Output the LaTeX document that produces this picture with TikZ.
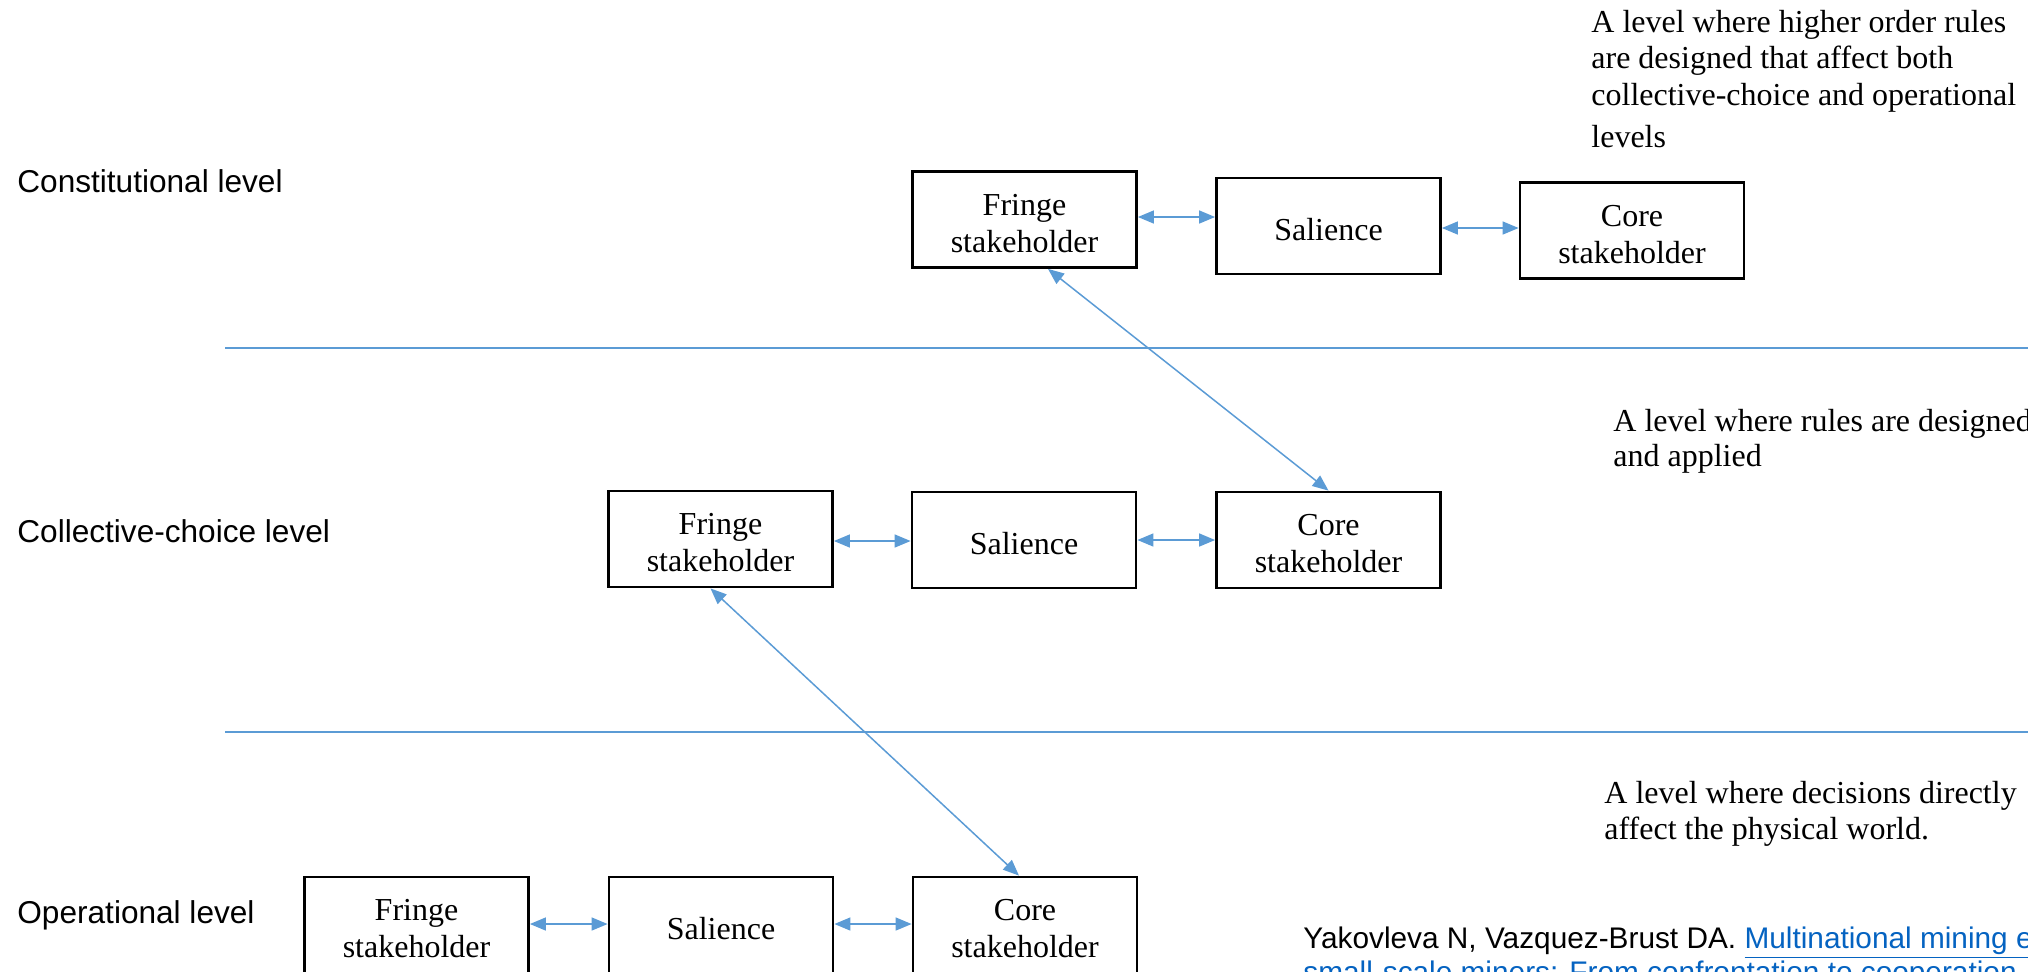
\documentclass[tikz,border=0pt]{standalone}
\usepackage{fontspec}
\setmainfont{Liberation Serif}
\newfontfamily\labelfont{Liberation Sans}
\usetikzlibrary{arrows.meta}
\definecolor{lineblue}{HTML}{5B9BD5}
\definecolor{linkblue}{HTML}{0563C1}
\newcommand{\boxlines}[1]{\begin{tabular}{@{}c@{}}\noalign{\vskip7pt}#1\end{tabular}}
\begin{document}
\begin{tikzpicture}[x=0.5pt,y=-0.5pt,
  box/.style={draw=black,line width=1.4pt,minimum width=112pt,minimum height=48pt,inner sep=0pt,font=\fontsize{16pt}{18.5pt}\selectfont},
  biarrow/.style={draw=lineblue,line width=0.75pt,{Triangle[length=8pt,width=6.5pt]}-{Triangle[length=8pt,width=6.5pt]}},
  sepline/.style={draw=lineblue,line width=0.8pt},
  lvl/.style={anchor=base west,inner sep=0pt,font=\labelfont\fontsize{15.8pt}{19pt}\selectfont},
  desc/.style={anchor=base west,inner sep=0pt,font=\fontsize{16pt}{18.5pt}\selectfont},
  citestyle/.style={anchor=base west,inner sep=0pt,font=\labelfont\fontsize{14.9pt}{17pt}\selectfont}]
\useasboundingbox (0,0) rectangle (2028,971);
\clip (0,0) rectangle (2028,971);

% level labels
\node[lvl] (lc) at (17,192) {Constitutional level};
\node[lvl] (lk) at (17,542) {Collective-choice level};
\node[lvl] (lo) at (17,923) {Operational level};

% separators
\coordinate (s1a) at (225,348); \coordinate (s1b) at (2028,348);
\coordinate (s2a) at (225,732); \coordinate (s2b) at (2028,732);
\draw[sepline] (s1a) -- (s1b);
\draw[sepline] (s2a) -- (s2b);

% descriptions
\node[desc] (d1a) at (1591,32) {A level where higher order rules};
\node[desc] (d1b) at (1591,68) {are designed that affect both};
\node[desc] (d1c) at (1591,105) {collective-choice and operational};
\node[desc] (d1d) at (1591,147) {levels};
\node[desc] (d2a) at (1613,431) {A level where rules are designed};
\node[desc] (d2b) at (1613,466) {and applied};
\node[desc] (d3a) at (1604,803) {A level where decisions directly};
\node[desc] (d3b) at (1604,839) {affect the physical world.};

% boxes
\node[box] (cF) at (1024.5,219.5) {\boxlines{Fringe\\stakeholder}};
\node[box] (cS) at (1328.5,226) {\boxlines{Salience}};
\node[box] (cC) at (1632,230.5) {\boxlines{Core\\stakeholder}};
\node[box] (kF) at (720.5,539) {\boxlines{Fringe\\stakeholder}};
\node[box] (kS) at (1024,540) {\boxlines{Salience}};
\node[box] (kC) at (1328.5,540) {\boxlines{Core\\stakeholder}};
\node[box] (oF) at (416.5,925) {\boxlines{Fringe\\stakeholder}};
\node[box] (oS) at (721,925) {\boxlines{Salience}};
\node[box] (oC) at (1025,925) {\boxlines{Core\\stakeholder}};

% horizontal arrows
\coordinate (yc1) at (0,217);
\coordinate (yc2) at (0,228);
\coordinate (yk1) at (0,541);
\coordinate (yk2) at (0,540);
\coordinate (yo) at (0,924);
\draw[biarrow] (cF.east |- yc1) -- (cS.west |- yc1);
\draw[biarrow] (cS.east |- yc2) -- (cC.west |- yc2);
\draw[biarrow] (kF.east |- yk1) -- (kS.west |- yk1);
\draw[biarrow] (kS.east |- yk2) -- (kC.west |- yk2);
\draw[biarrow] (oF.east |- yo) -- (oS.west |- yo);
\draw[biarrow] (oS.east |- yo) -- (oC.west |- yo);

% diagonal arrows
\draw[biarrow] ([xshift=11.75pt]cF.south) -- (kC.north);
\draw[biarrow] ([xshift=-5pt]kF.south) -- ([xshift=-3pt]oC.north);

% citation
\node[citestyle] (ct1) at (1303,948) {Yakovleva N, Vazquez-Brust DA. {\color{linkblue}\underline{Multinational mining enterprises and artisanal}}};
\node[citestyle] (ct2) at (1303,982) {\color{linkblue}\underline{small-scale miners: From confrontation to cooperation}};
\end{tikzpicture}
\end{document}
